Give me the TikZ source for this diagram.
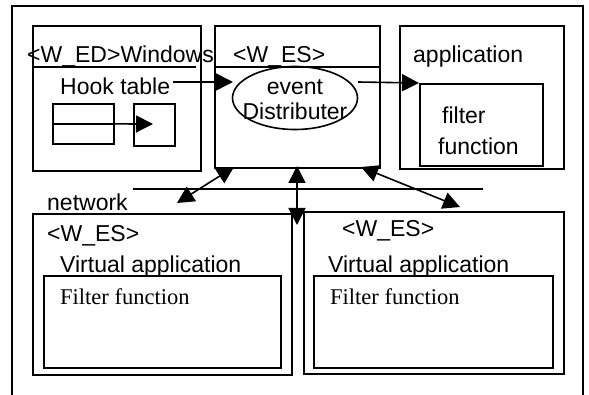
\documentclass[tikz,border=0pt]{standalone}
\usepackage{fontspec}
\setmainfont{Liberation Sans}
\newfontfamily\serifface{Liberation Serif}
\usetikzlibrary{arrows.meta,shapes.geometric}
\begin{document}
\begin{tikzpicture}[x=1pt,y=-1pt,
  box/.style={draw,line width=1.6pt,rectangle,inner sep=0pt,anchor=north west},
  lbl/.style={inner sep=0pt,anchor=base west,font=\fontsize{23}{26}\selectfont},
  slbl/.style={inner sep=0pt,anchor=base west,font=\serifface\fontsize{22.5}{26}\selectfont},
  arr/.style={line width=1.6pt,-{Triangle[length=17pt,width=17pt]}},
  darr/.style={line width=1.6pt,{Triangle[length=17pt,width=17pt]}-{Triangle[length=17pt,width=17pt]}},
  thin/.style={line width=1.6pt}]
\useasboundingbox (0,0) rectangle (589,395);
% outer frame
\coordinate (fbl) at (12,395);
\coordinate (ftl) at (12,6);
\coordinate (ftr) at (583,6);
\coordinate (fbr) at (583,395);
\draw[thin] (fbl) -- (ftl) -- (ftr) -- (fbr);
% top boxes
\node[box,minimum width=168pt,minimum height=145pt] (win) at (32,25) {};
\node[box,minimum width=165pt,minimum height=142pt] (es) at (214,25) {};
\node[box,minimum width=164pt,minimum height=143pt] (app) at (399,25) {};
\node[box,minimum width=123pt,minimum height=82pt] (filt) at (419,83) {};
\coordinate (winl) at (32,67); \coordinate (winr) at (196,67);
\draw[thin] (winl) -- (winr);
\coordinate (esl) at (214,67); \coordinate (esr) at (379,67);
\draw[thin] (esl) -- (esr);
% hook table boxes
\node[box,minimum width=61pt,minimum height=40pt] (tab) at (52,103) {};
\node[box,minimum width=41pt,minimum height=42pt] (slot) at (133,103) {};
\draw[thin] (tab.west) -- (tab.east);
\coordinate (slottip) at (153,124);
\draw[arr] (tab.west) -- (slottip);
% ellipse
\node[draw,line width=1.6pt,ellipse,minimum width=125pt,minimum height=63pt,inner sep=0pt] (ell) at (295,98) {};
% texts
\node[lbl] (twin) at (27,63) {<W\_ED>Windows};
\node[lbl] (tes) at (233,63) {<W\_ES>};
\node[lbl] (tapp) at (413,63) {application};
\node[lbl] (hook) at (60,95) {Hook table};
\node[lbl,anchor=base] (tev) at (295,95) {event};
\node[lbl,anchor=base] (tdis) at (295,120) {Distributer};
\node[lbl] (tfil) at (442,124) {filter};
\node[lbl] (tfun) at (438,155) {function};
% arrows in top row
\coordinate (hookout) at (173,82);
\coordinate (evin) at (233,82);
\draw[arr] (hookout) -- (evin);
\coordinate (evout) at (358,82);
\draw[arr] (evout) -- (filt.north west);
% network
\coordinate (netl) at (133,189); \coordinate (netr) at (483,189);
\draw[thin] (netl) -- (netr);
\node[lbl] (tnet) at (47,211) {network};
% lower boxes
\node[box,minimum width=259pt,minimum height=161pt] (vl) at (32,213) {};
\node[box,minimum width=237pt,minimum height=92pt] (fl) at (43,275) {};
\node[box,minimum width=260pt,minimum height=162pt] (vr) at (303,211) {};
\node[box,minimum width=239pt,minimum height=92pt] (fr) at (313,275) {};
\node[lbl] (tesl) at (47,242) {<W\_ES>};
\node[lbl] (tval) at (60,273) {Virtual application};
\node[slbl] (tffl) at (60,305) {Filter function};
\node[lbl] (tesr) at (342,237) {<W\_ES>};
\node[lbl] (tvar) at (328,273) {Virtual application};
\node[slbl] (tffr) at (330,305) {Filter function};
% double arrows
\coordinate (a1) at (177,203); \coordinate (a2) at (234,167);
\draw[darr] (a1) -- (a2);
\coordinate (b1) at (297,166); \coordinate (b2) at (297,225);
\draw[darr] (b1) -- (b2);
\coordinate (c1) at (361,167); \coordinate (c2) at (460,207);
\draw[darr] (c1) -- (c2);
\end{tikzpicture}
\end{document}
